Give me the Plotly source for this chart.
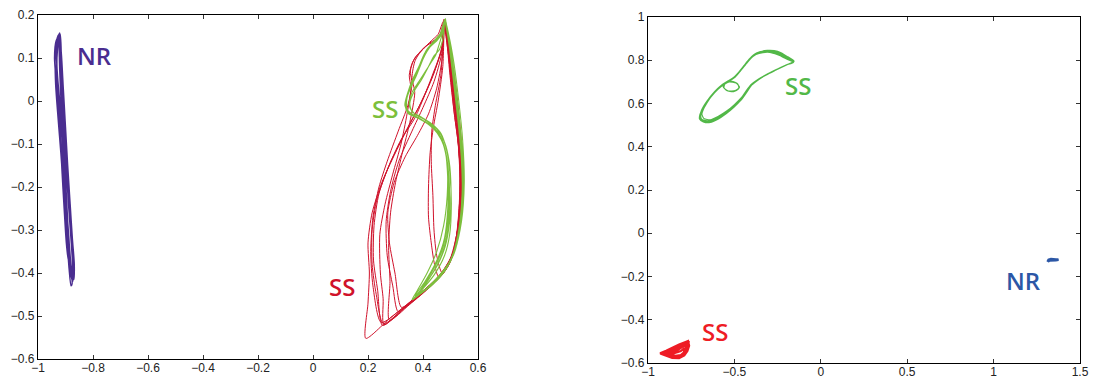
import plotly.graph_objects as go

# ---------------- Left panel data ----------------
nr_left_x = [
    -0.923, -0.918, -0.912, -0.905, -0.897, -0.888, -0.879, -0.872, -0.874, -0.882, -0.893, -0.903, -0.914, -0.925, -0.935, -0.938, -0.930,
    -0.921, -0.916, -0.909, -0.901, -0.893, -0.884, -0.876, -0.869, -0.871, -0.880, -0.890, -0.899, -0.908, -0.918, -0.928, -0.933, -0.926,
    -0.924, -0.919, -0.913, -0.906, -0.899, -0.892, -0.886, -0.890, -0.897, -0.905, -0.913, -0.920, -0.930, -0.940, -0.934,
    -0.922, -0.915, -0.908, -0.900, -0.892, -0.883, -0.875, -0.868, -0.870, -0.879, -0.888, -0.896, -0.905, -0.915, -0.925, -0.932, -0.928,
    -0.925, -0.921, -0.915, -0.908, -0.900, -0.891, -0.882, -0.876, -0.880, -0.887, -0.896, -0.906, -0.917, -0.927, -0.936, -0.937, -0.927,
    -0.920, -0.915, -0.910, -0.902, -0.894, -0.886, -0.878, -0.873, -0.877, -0.886, -0.895, -0.904, -0.913, -0.923, -0.931, -0.929, -0.923,
]
nr_left_y = [
    0.155, 0.100, 0.020, -0.070, -0.160, -0.250, -0.330, -0.390, -0.420, -0.400, -0.330, -0.240, -0.130, -0.030, 0.060, 0.100, 0.140,
    0.158, 0.090, 0.000, -0.090, -0.180, -0.270, -0.350, -0.400, -0.410, -0.380, -0.300, -0.210, -0.110, -0.020, 0.050, 0.110, 0.150,
    0.150, 0.080, -0.010, -0.100, -0.190, -0.280, -0.340, -0.370, -0.330, -0.250, -0.160, -0.070, 0.020, 0.100, 0.140,
    0.153, 0.110, 0.030, -0.060, -0.150, -0.240, -0.320, -0.380, -0.415, -0.410, -0.350, -0.270, -0.170, -0.070, 0.010, 0.080, 0.130,
    0.150, 0.070, -0.020, -0.120, -0.210, -0.300, -0.370, -0.425, -0.430, -0.390, -0.310, -0.220, -0.120, -0.040, 0.040, 0.110, 0.152,
    0.156, 0.100, 0.010, -0.080, -0.170, -0.260, -0.340, -0.400, -0.415, -0.370, -0.290, -0.190, -0.090, 0.000, 0.080, 0.130, 0.155,
]

ss_red_left_x = [
    0.478, 0.470, 0.440, 0.400, 0.350, 0.300, 0.250, 0.215, 0.200, 0.205, 0.200, 0.192, 0.280, 0.370, 0.450, 0.500, 0.525, 0.535, 0.528, 0.512, 0.498, 0.488,
    0.476, 0.468, 0.430, 0.380, 0.330, 0.280, 0.240, 0.222, 0.220, 0.235, 0.253, 0.330, 0.400, 0.462, 0.505, 0.530, 0.538, 0.532, 0.518, 0.503, 0.490,
    0.474, 0.460, 0.425, 0.390, 0.362, 0.350, 0.356, 0.342, 0.320, 0.290, 0.262, 0.243, 0.245, 0.255, 0.258, 0.340, 0.420, 0.475, 0.512, 0.533, 0.540, 0.530, 0.515, 0.500, 0.484,
    0.478, 0.455, 0.405, 0.372, 0.360, 0.370, 0.352, 0.325, 0.300, 0.282, 0.275, 0.280, 0.278, 0.350, 0.430, 0.480, 0.515, 0.530, 0.535, 0.524, 0.508, 0.495,
    0.480, 0.470, 0.450, 0.420, 0.380, 0.335, 0.295, 0.272, 0.278, 0.298, 0.322, 0.380, 0.440, 0.490, 0.522, 0.540, 0.545, 0.535, 0.520, 0.500, 0.485,
    0.477, 0.468, 0.440, 0.400, 0.360, 0.312, 0.282, 0.266, 0.270, 0.290, 0.310, 0.370, 0.440, 0.485, 0.518, 0.532, 0.534, 0.526, 0.510, 0.496,
    0.479, 0.472, 0.455, 0.438, 0.426, 0.420, 0.420, 0.430, 0.442, 0.458, 0.495, 0.522, 0.536, 0.537, 0.526, 0.510, 0.495,
    0.475, 0.455, 0.430, 0.400, 0.370, 0.354, 0.360, 0.345, 0.310, 0.270, 0.240, 0.218, 0.210, 0.218, 0.248, 0.320, 0.390, 0.455, 0.500, 0.527, 0.537, 0.530, 0.514, 0.500, 0.488,
    0.478, 0.468, 0.440, 0.410, 0.370, 0.320, 0.270, 0.232, 0.215, 0.215, 0.230, 0.256, 0.330, 0.410, 0.468, 0.508, 0.530, 0.540, 0.534, 0.518, 0.503, 0.490,
    0.477, 0.465, 0.445, 0.432, 0.430, 0.436, 0.440, 0.450, 0.470, 0.505, 0.528, 0.540, 0.537, 0.522, 0.505, 0.490, 0.478,
]
ss_red_left_y = [
    0.185, 0.130, 0.065, 0.005, -0.055, -0.120, -0.190, -0.260, -0.330, -0.400, -0.470, -0.552, -0.505, -0.458, -0.412, -0.370, -0.300, -0.200, -0.100, -0.020, 0.060, 0.130,
    0.190, 0.120, 0.050, -0.020, -0.080, -0.145, -0.215, -0.290, -0.370, -0.440, -0.522, -0.482, -0.446, -0.405, -0.360, -0.290, -0.210, -0.120, -0.030, 0.050, 0.120,
    0.180, 0.150, 0.135, 0.115, 0.090, 0.060, 0.030, -0.030, -0.100, -0.170, -0.240, -0.310, -0.400, -0.460, -0.520, -0.478, -0.435, -0.400, -0.350, -0.270, -0.180, -0.080, 0.010, 0.090, 0.160,
    0.175, 0.145, 0.125, 0.095, 0.055, 0.020, -0.050, -0.120, -0.190, -0.260, -0.340, -0.420, -0.510, -0.474, -0.430, -0.395, -0.340, -0.260, -0.160, -0.070, 0.020, 0.100,
    0.190, 0.100, 0.030, -0.030, -0.080, -0.130, -0.190, -0.260, -0.330, -0.400, -0.480, -0.452, -0.420, -0.385, -0.330, -0.250, -0.150, -0.060, 0.030, 0.110, 0.170,
    0.182, 0.110, 0.045, -0.015, -0.070, -0.140, -0.210, -0.280, -0.360, -0.430, -0.490, -0.457, -0.420, -0.390, -0.335, -0.250, -0.160, -0.070, 0.020, 0.100,
    0.188, 0.080, 0.000, -0.060, -0.120, -0.200, -0.270, -0.330, -0.380, -0.410, -0.380, -0.320, -0.230, -0.140, -0.050, 0.040, 0.120,
    0.186, 0.155, 0.140, 0.120, 0.100, 0.070, 0.040, -0.010, -0.070, -0.140, -0.200, -0.270, -0.350, -0.430, -0.515, -0.485, -0.450, -0.410, -0.365, -0.295, -0.200, -0.110, -0.030, 0.060, 0.140,
    0.184, 0.120, 0.070, 0.020, -0.040, -0.090, -0.160, -0.230, -0.300, -0.380, -0.450, -0.518, -0.482, -0.440, -0.402, -0.355, -0.280, -0.190, -0.100, -0.010, 0.070, 0.140,
    0.170, 0.060, -0.010, -0.070, -0.140, -0.220, -0.300, -0.360, -0.400, -0.365, -0.300, -0.210, -0.120, -0.030, 0.060, 0.140, 0.186,
]

ss_green_left_x = [
    0.482, 0.470, 0.445, 0.418, 0.398, 0.378, 0.355, 0.338, 0.340, 0.365, 0.405, 0.445, 0.472, 0.488, 0.494, 0.488, 0.468, 0.430, 0.390, 0.368, 0.420, 0.470, 0.508, 0.532, 0.544, 0.540, 0.526, 0.510, 0.496,
    0.480, 0.468, 0.440, 0.410, 0.390, 0.370, 0.350, 0.336, 0.345, 0.375, 0.415, 0.452, 0.478, 0.492, 0.497, 0.490, 0.470, 0.440, 0.400, 0.375, 0.430, 0.478, 0.513, 0.536, 0.546, 0.542, 0.528, 0.512, 0.494,
    0.482, 0.472, 0.458, 0.445, 0.430, 0.410, 0.385, 0.360, 0.350, 0.370, 0.410, 0.450, 0.478, 0.495, 0.502, 0.497, 0.480, 0.450, 0.410, 0.380, 0.440, 0.485, 0.518, 0.538, 0.545, 0.538, 0.522, 0.505, 0.490,
    0.478, 0.462, 0.432, 0.405, 0.385, 0.362, 0.345, 0.334, 0.350, 0.390, 0.430, 0.462, 0.482, 0.490, 0.490, 0.478, 0.455, 0.415, 0.382, 0.362, 0.415, 0.465, 0.503, 0.528, 0.542, 0.540, 0.528, 0.512, 0.498,
    0.481, 0.470, 0.450, 0.425, 0.402, 0.383, 0.360, 0.342, 0.342, 0.360, 0.400, 0.440, 0.470, 0.486, 0.493, 0.490, 0.474, 0.445, 0.405, 0.372, 0.425, 0.472, 0.510, 0.534, 0.547, 0.543, 0.530, 0.514, 0.498,
    0.480, 0.474, 0.460, 0.440, 0.420, 0.395, 0.370, 0.352, 0.360, 0.390, 0.430, 0.465, 0.486, 0.498, 0.503, 0.497, 0.478, 0.440, 0.395, 0.370, 0.430, 0.480, 0.515, 0.540, 0.550, 0.544, 0.530, 0.512, 0.495,
    0.479, 0.466, 0.438, 0.412, 0.392, 0.372, 0.350, 0.336, 0.344, 0.372, 0.410, 0.450, 0.476, 0.488, 0.488, 0.475, 0.450, 0.415, 0.380, 0.360, 0.410, 0.460, 0.500, 0.527, 0.542, 0.540, 0.526, 0.510, 0.495, 0.482,
]
ss_green_left_y = [
    0.192, 0.165, 0.140, 0.122, 0.095, 0.062, 0.030, 0.000, -0.022, -0.033, -0.048, -0.068, -0.098, -0.145, -0.220, -0.290, -0.350, -0.400, -0.440, -0.458, -0.432, -0.400, -0.360, -0.300, -0.220, -0.120, -0.030, 0.060, 0.130,
    0.190, 0.160, 0.135, 0.115, 0.085, 0.055, 0.025, -0.005, -0.028, -0.038, -0.052, -0.075, -0.108, -0.160, -0.230, -0.300, -0.355, -0.395, -0.435, -0.455, -0.428, -0.395, -0.355, -0.290, -0.200, -0.110, -0.020, 0.070, 0.140,
    0.188, 0.160, 0.130, 0.105, 0.090, 0.070, 0.045, 0.020, -0.010, -0.030, -0.045, -0.065, -0.095, -0.140, -0.210, -0.280, -0.340, -0.385, -0.425, -0.452, -0.424, -0.390, -0.345, -0.280, -0.190, -0.100, -0.010, 0.080, 0.150,
    0.185, 0.155, 0.132, 0.110, 0.080, 0.050, 0.020, -0.010, -0.030, -0.042, -0.058, -0.082, -0.120, -0.180, -0.250, -0.320, -0.370, -0.415, -0.448, -0.462, -0.435, -0.405, -0.365, -0.310, -0.230, -0.140, -0.050, 0.040, 0.120,
    0.190, 0.158, 0.140, 0.125, 0.100, 0.070, 0.038, 0.008, -0.020, -0.030, -0.045, -0.062, -0.090, -0.135, -0.200, -0.270, -0.330, -0.378, -0.422, -0.452, -0.430, -0.398, -0.358, -0.300, -0.210, -0.120, -0.030, 0.060, 0.130,
    0.188, 0.150, 0.120, 0.105, 0.080, 0.050, 0.025, -0.005, -0.025, -0.036, -0.052, -0.075, -0.115, -0.170, -0.240, -0.310, -0.360, -0.405, -0.440, -0.457, -0.430, -0.395, -0.350, -0.280, -0.190, -0.090, 0.000, 0.090, 0.150,
    0.190, 0.160, 0.138, 0.118, 0.090, 0.060, 0.028, -0.003, -0.026, -0.036, -0.050, -0.070, -0.102, -0.150, -0.220, -0.290, -0.350, -0.400, -0.440, -0.462, -0.437, -0.405, -0.370, -0.310, -0.220, -0.130, -0.040, 0.050, 0.130, 0.190,
]

# ---------------- Right panel data ----------------
ss_green_right_x = [
    -0.155, -0.190, -0.230, -0.270, -0.310, -0.350, -0.390, -0.420, -0.450, -0.480, -0.510, -0.545, -0.580, -0.620, -0.660, -0.690, -0.700, -0.680, -0.640, -0.600, -0.550, -0.500, -0.460, -0.430, -0.400, -0.360, -0.310, -0.260, -0.210,
    -0.155, -0.200, -0.250, -0.290, -0.330, -0.370, -0.405, -0.435, -0.465, -0.495, -0.525, -0.555, -0.560, -0.535, -0.495, -0.470, -0.490, -0.530, -0.570, -0.610, -0.645, -0.675, -0.688, -0.675, -0.640, -0.595, -0.545, -0.500, -0.460, -0.428, -0.395, -0.355, -0.305, -0.255, -0.205,
    -0.158, -0.210, -0.260, -0.300, -0.340, -0.380, -0.415, -0.445, -0.475, -0.505, -0.540, -0.575, -0.615, -0.655, -0.685, -0.698, -0.685, -0.645, -0.600, -0.552, -0.505, -0.465, -0.435, -0.403, -0.360, -0.310, -0.260, -0.205,
    -0.155, -0.195, -0.240, -0.280, -0.320, -0.360, -0.398, -0.428, -0.458, -0.490, -0.520, -0.550, -0.565, -0.545, -0.505, -0.475, -0.480, -0.515, -0.555, -0.595, -0.635, -0.668, -0.692, -0.695, -0.670, -0.630, -0.585, -0.535, -0.490, -0.455, -0.425, -0.390, -0.350, -0.300, -0.250, -0.200,
    -0.160, -0.200, -0.245, -0.285, -0.325, -0.365, -0.400, -0.432, -0.462, -0.493, -0.525, -0.560, -0.600, -0.640, -0.672, -0.693, -0.690, -0.660, -0.620, -0.575, -0.528, -0.484, -0.450, -0.420, -0.385, -0.345, -0.295, -0.245, -0.195,
    -0.155, -0.200, -0.250, -0.295, -0.335, -0.375, -0.410, -0.440, -0.470, -0.500, -0.535, -0.570, -0.608, -0.648, -0.680, -0.700, -0.702, -0.680, -0.640, -0.595, -0.548, -0.503, -0.465, -0.435, -0.405, -0.365, -0.315, -0.265, -0.210, -0.155,
]
ss_green_right_y = [
    0.795, 0.815, 0.835, 0.845, 0.846, 0.840, 0.825, 0.800, 0.770, 0.740, 0.716, 0.700, 0.680, 0.650, 0.610, 0.570, 0.535, 0.520, 0.516, 0.530, 0.556, 0.587, 0.617, 0.650, 0.685, 0.710, 0.735, 0.755, 0.775,
    0.793, 0.812, 0.830, 0.840, 0.838, 0.830, 0.810, 0.780, 0.750, 0.722, 0.705, 0.690, 0.672, 0.658, 0.660, 0.675, 0.695, 0.700, 0.685, 0.655, 0.620, 0.580, 0.550, 0.530, 0.525, 0.540, 0.565, 0.595, 0.627, 0.660, 0.690, 0.715, 0.738, 0.758, 0.777,
    0.790, 0.810, 0.832, 0.843, 0.842, 0.830, 0.805, 0.775, 0.745, 0.720, 0.703, 0.685, 0.655, 0.615, 0.575, 0.540, 0.525, 0.520, 0.535, 0.560, 0.590, 0.620, 0.655, 0.688, 0.713, 0.736, 0.756, 0.776,
    0.796, 0.818, 0.836, 0.845, 0.845, 0.836, 0.818, 0.790, 0.760, 0.728, 0.708, 0.695, 0.678, 0.660, 0.655, 0.668, 0.690, 0.703, 0.690, 0.665, 0.630, 0.590, 0.555, 0.530, 0.518, 0.520, 0.540, 0.566, 0.598, 0.630, 0.664, 0.694, 0.717, 0.740, 0.760, 0.778,
    0.792, 0.815, 0.834, 0.843, 0.843, 0.833, 0.812, 0.783, 0.755, 0.725, 0.706, 0.690, 0.665, 0.630, 0.590, 0.553, 0.528, 0.520, 0.528, 0.548, 0.574, 0.604, 0.636, 0.670, 0.698, 0.720, 0.742, 0.762, 0.780,
    0.794, 0.810, 0.826, 0.836, 0.835, 0.826, 0.805, 0.778, 0.750, 0.723, 0.705, 0.688, 0.660, 0.623, 0.583, 0.548, 0.528, 0.515, 0.512, 0.527, 0.552, 0.582, 0.613, 0.647, 0.682, 0.708, 0.732, 0.752, 0.773, 0.794,
]

ss_red_right_x = [
    -0.925, -0.890, -0.850, -0.810, -0.780, -0.765, -0.768, -0.780, -0.800, -0.830, -0.870, -0.900,
    -0.920, -0.885, -0.848, -0.815, -0.790, -0.772, -0.775, -0.790, -0.810, -0.840, -0.875, -0.905,
    -0.915, -0.880, -0.845, -0.820, -0.800, -0.782, -0.784, -0.800, -0.822, -0.850, -0.880, -0.910,
    -0.930, -0.895, -0.855, -0.820, -0.790, -0.768, -0.762, -0.772, -0.790, -0.820, -0.860, -0.895, -0.930,
    -0.870, -0.840, -0.810, -0.795, -0.790, -0.810, -0.840, -0.870,
]
ss_red_right_y = [
    -0.556, -0.546, -0.535, -0.521, -0.508, -0.505, -0.530, -0.552, -0.568, -0.576, -0.572, -0.564,
    -0.556, -0.550, -0.540, -0.530, -0.518, -0.510, -0.535, -0.555, -0.570, -0.574, -0.568, -0.560,
    -0.558, -0.552, -0.545, -0.536, -0.525, -0.515, -0.540, -0.560, -0.572, -0.575, -0.568, -0.561,
    -0.555, -0.543, -0.530, -0.515, -0.505, -0.498, -0.520, -0.545, -0.565, -0.578, -0.576, -0.567, -0.556,
    -0.560, -0.553, -0.545, -0.535, -0.550, -0.563, -0.567, -0.562,
]

nr_right_x = [1.312, 1.318, 1.332, 1.350, 1.368, 1.376, 1.360, 1.340, 1.325, 1.316, 1.320, 1.345, 1.372]
nr_right_y = [-0.132, -0.123, -0.119, -0.121, -0.120, -0.123, -0.125, -0.124, -0.126, -0.130, -0.122, -0.120, -0.121]

# ticks
left_xticks = [-1, -0.8, -0.6, -0.4, -0.2, 0, 0.2, 0.4, 0.6]
left_xlabels = ["\u22121", "\u22120.8", "\u22120.6", "\u22120.4", "\u22120.2", "0", "0.2", "0.4", "0.6"]
left_yticks = [-0.6, -0.5, -0.4, -0.3, -0.2, -0.1, 0, 0.1, 0.2]
left_ylabels = ["\u22120.6", "\u22120.5", "\u22120.4", "\u22120.3", "\u22120.2", "\u22120.1", "0", "0.1", "0.2"]
right_xticks = [-1, -0.5, 0, 0.5, 1, 1.5]
right_xlabels = ["\u22121", "\u22120.5", "0", "0.5", "1", "1.5"]
right_yticks = [-0.6, -0.4, -0.2, 0, 0.2, 0.4, 0.6, 0.8, 1]
right_ylabels = ["\u22120.6", "\u22120.4", "\u22120.2", "0", "0.2", "0.4", "0.6", "0.8", "1"]

C_NR_L = "#4a2d90"
C_RED_L = "#d0122b"
C_GRN_L = "#7cbf3c"
C_GRN_R = "#52b848"
C_RED_R = "#ee1c25"
C_NR_R = "#2c57a6"

fig = go.Figure()
fig.add_trace(go.Scatter(x=nr_left_x, y=nr_left_y, mode="lines",
                         line=dict(color=C_NR_L, width=1.4, shape="spline", smoothing=0.7), xaxis="x", yaxis="y"))
fig.add_trace(go.Scatter(x=ss_red_left_x, y=ss_red_left_y, mode="lines",
                         line=dict(color=C_RED_L, width=1.0, shape="spline", smoothing=0.7), xaxis="x", yaxis="y"))
fig.add_trace(go.Scatter(x=ss_green_left_x, y=ss_green_left_y, mode="lines",
                         line=dict(color=C_GRN_L, width=1.1, shape="spline", smoothing=0.7), xaxis="x", yaxis="y"))
fig.add_trace(go.Scatter(x=ss_green_right_x, y=ss_green_right_y, mode="lines",
                         line=dict(color=C_GRN_R, width=1.1, shape="spline", smoothing=0.6), xaxis="x2", yaxis="y2"))
fig.add_trace(go.Scatter(x=ss_red_right_x, y=ss_red_right_y, mode="lines",
                         line=dict(color=C_RED_R, width=2.2), xaxis="x2", yaxis="y2"))
fig.add_trace(go.Scatter(x=nr_right_x, y=nr_right_y, mode="lines",
                         line=dict(color=C_NR_R, width=2.5), xaxis="x2", yaxis="y2"))

# The page body adds an 8 px offset, so the figure is laid out 8 px up/left.
# The right panel ends a few px early so its last x tick label stays visible.
W, H = 1089, 379
OFF = 8
tick_font = dict(family="Liberation Sans, Arial, sans-serif", size=12, color="#222")
axis_common = dict(showline=True, linecolor="black", linewidth=1.3, mirror="ticks",
                   ticks="inside", ticklen=4, tickcolor="#333", tickwidth=1,
                   showgrid=False, zeroline=False, fixedrange=True, automargin=False,
                   tickfont=tick_font)

fig.update_layout(
    width=W, height=H, autosize=False,
    margin=dict(l=0, r=0, t=0, b=0),
    paper_bgcolor="white", plot_bgcolor="white",
    showlegend=False,
    xaxis=dict(domain=[(38 - OFF) / W, (478 - OFF) / W], range=[-1, 0.6], tickvals=left_xticks, ticktext=left_xlabels,
               anchor="y", ticklabelstandoff=-3, **axis_common),
    yaxis=dict(domain=[1 - (359 - OFF) / H, 1 - (15 - OFF) / H], range=[-0.6, 0.2], tickvals=left_yticks,
               ticktext=left_ylabels, anchor="x", **axis_common),
    xaxis2=dict(domain=[(648 - OFF) / W, (1080 - OFF) / W], range=[-1, 1.5], tickvals=right_xticks,
                ticktext=right_xlabels, anchor="y2", ticklabelstandoff=-3, **axis_common),
    yaxis2=dict(domain=[1 - (363 - OFF) / H, 1 - (17 - OFF) / H], range=[-0.6, 1], tickvals=right_yticks,
                ticktext=right_ylabels, anchor="x2", **axis_common),
)

label_font = "Open Sans, Noto Sans, sans-serif"
labels = [
    ("x", "y", -0.796, 0.105, "NR", C_NR_L),
    ("x", "y", 0.26, -0.017, "SS", C_GRN_L),
    ("x", "y", 0.105, -0.431, "SS", C_RED_L),
    ("x2", "y2", -0.132, 0.685, "SS", C_GRN_R),
    ("x2", "y2", -0.615, -0.453, "SS", C_RED_R),
    ("x2", "y2", 1.175, -0.218, "NR", C_NR_R),
]
for xr, yr, lx, ly, txt, col in labels:
    fig.add_annotation(x=lx, y=ly, xref=xr, yref=yr, text=txt, showarrow=False,
                       font=dict(family=label_font, size=24, color=col, weight=600),
                       xanchor="center", yanchor="middle")

fig.write_html("out.html")
